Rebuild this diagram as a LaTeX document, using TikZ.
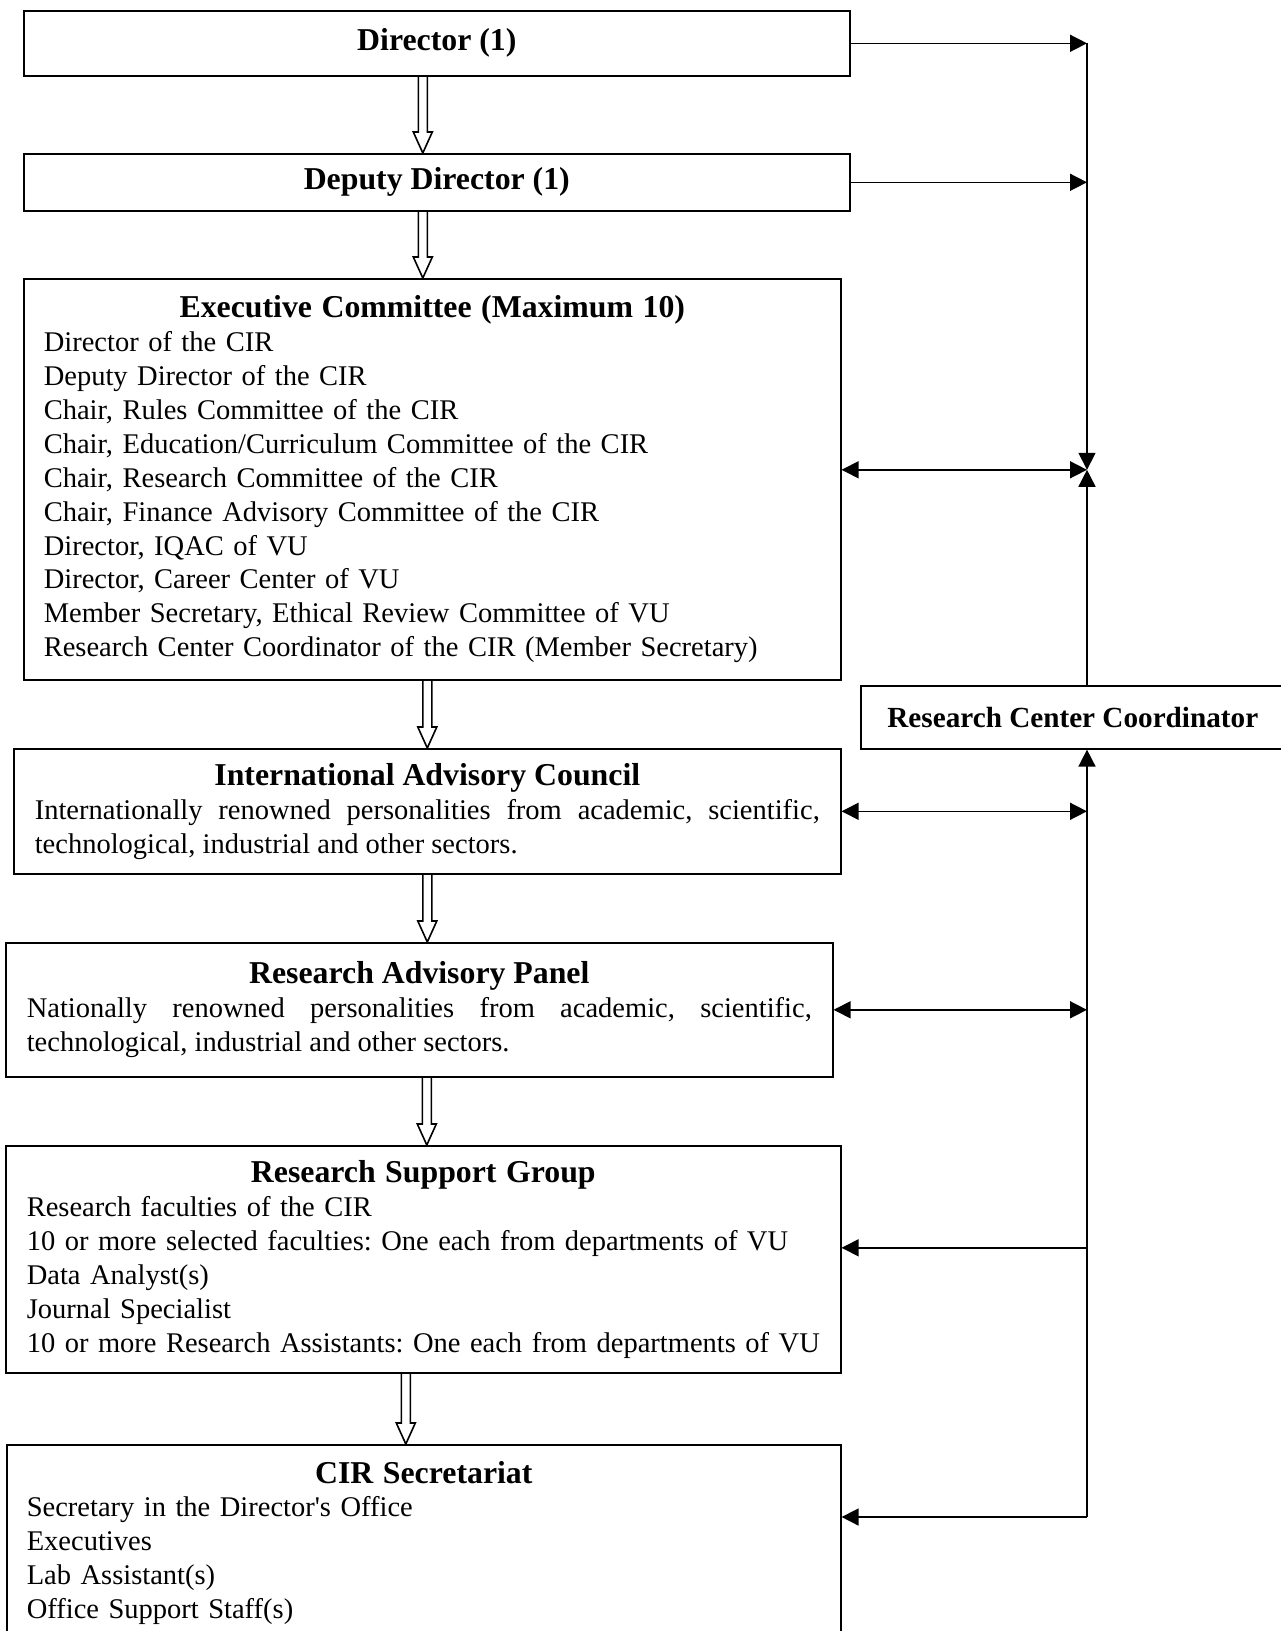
\documentclass[tikz,border=0pt]{standalone}
\usepackage{fontspec}
\setmainfont{Liberation Serif}[Ligatures=TeXOff]
\usetikzlibrary{arrows.meta, calc}
\frenchspacing
\newcommand{\boxtitle}{\fontsize{31.8}{35}\selectfont\bfseries}
\newcommand{\boxbody}{\fontsize{28.5}{33.9}\selectfont}
\newcommand{\centretitle}[1]{\makebox[\linewidth]{\boxtitle #1}}
% hollow block arrow: xshift, upper node, lower node
\newcommand{\hollowarrow}[3]{%
  \draw[hollow] let \p1=([xshift=#1]#2.south), \p2=(#3.north) in
    (\x1-4.5pt,\y1) -- (\x1-4.5pt,\y2+21pt) -- (\x1-9.5pt,\y2+21pt) -- (\x1,\y2)
    -- (\x1+9.5pt,\y2+21pt) -- (\x1+4.5pt,\y2+21pt) -- (\x1+4.5pt,\y1);}
\tikzset{
  unit/.style={draw, line width=1.6pt, rectangle, anchor=north west, inner ysep=0pt},
  headbox/.style={unit, font=\boxtitle, align=center},
  listbox/.style={unit, font=\boxbody, align=left},
  parabox/.style={unit, font=\boxbody, align=justify},
  hollow/.style={line width=1.6pt, line join=miter},
  arr/.style={-{Triangle[length=17pt, width=17pt]}, line width=1.6pt},
  dbl/.style={{Triangle[length=17pt, width=17pt]}-{Triangle[length=17pt, width=17pt]}, line width=1.6pt}
}
\begin{document}
\begin{tikzpicture}[x=1pt, y=-1pt]
\path[use as bounding box, clip] (0,0) rectangle (1281,1631);

\node[headbox, minimum width=826, minimum height=65] (dir) at (23,10) {Director (1)};
\node[headbox, minimum width=826, minimum height=57] (dep) at (23,153) {Deputy Director (1)};

\node[listbox, minimum width=817, minimum height=401, inner xsep=20, text width=777] (exec) at (23,278) {%
  \centretitle{Executive Committee (Maximum 10)}\\
  Director of the CIR\\
  Deputy Director of the CIR\\
  Chair, Rules Committee of the CIR\\
  Chair, Education/Curriculum Committee of the CIR\\
  Chair, Research Committee of the CIR\\
  Chair, Finance Advisory Committee of the CIR\\
  Director, IQAC of VU\\
  Director, Career Center of VU\\
  Member Secretary, Ethical Review Committee of VU\\
  \mbox{Research Center Coordinator of the CIR (Member Secretary)}};

\node[parabox, minimum width=827, minimum height=125, inner xsep=21, text width=785] (iac) at (13,748) {%
  \centretitle{International Advisory Council}\\
  Internationally renowned personalities from academic, scientific,\linebreak
  technological, industrial and other sectors.};

\node[parabox, minimum width=827, minimum height=134, inner xsep=21, text width=785] (rap) at (5,942) {%
  \centretitle{Research Advisory Panel}\\
  Nationally renowned personalities from academic, scientific,\linebreak
  technological, industrial and other sectors.};

\node[listbox, minimum width=835, minimum height=227, inner xsep=21, text width=793] (rsg) at (5,1145) {%
  \centretitle{Research Support Group}\\
  Research faculties of the CIR\\
  \mbox{10 or more selected faculties: One each from departments of VU}\\
  Data Analyst(s)\\
  Journal Specialist\\
  \mbox{10 or more Research Assistants: One each from departments of VU}};

\node[listbox, minimum width=834, minimum height=196, inner xsep=20, text width=794] (sec) at (6,1444) {%
  \centretitle{CIR Secretariat}\\
  Secretary in the Director's Office\\
  Executives\\
  Lab Assistant(s)\\
  Office Support Staff(s)};

\node[unit, font=\fontsize{29.2}{33}\selectfont\bfseries, minimum width=424, minimum height=63] (rcc) at (860,685) {Research Center Coordinator};

% block arrows down the chain
\hollowarrow{-14pt}{dir}{dep}
\hollowarrow{-14pt}{dep}{exec}
\hollowarrow{-5pt}{exec}{iac}
\hollowarrow{0pt}{iac}{rap}
\hollowarrow{7.5pt}{rap}{rsg}
\hollowarrow{-17.5pt}{rsg}{sec}

% coordinator line on the right
\coordinate (spine) at (1087,0);
\coordinate (execR) at ([yshift=9.5pt]exec.east);
\coordinate (rsgR) at ([yshift=11.5pt]rsg.east);
\coordinate (hub) at (execR -| spine);
\coordinate (spineEnd) at (1087,1517);

\draw[arr] (dir.east) -- (dir.east -| spine);
\draw[arr] (dep.east) -- (dep.east -| spine);
\draw[arr] (dir.east -| spine) -- (hub);
\draw[arr] (rcc.north -| spine) -- (hub);
\draw[dbl] (execR) -- (hub);
\draw[arr] (spineEnd) -- (rcc.south -| spine);
\draw[dbl] (iac.east) -- (iac.east -| spine);
\draw[dbl] (rap.east) -- (rap.east -| spine);
\draw[arr] (rsgR -| spine) -- (rsgR);
\draw[arr] (spineEnd) -- (spineEnd -| sec.east);
\end{tikzpicture}
\end{document}
